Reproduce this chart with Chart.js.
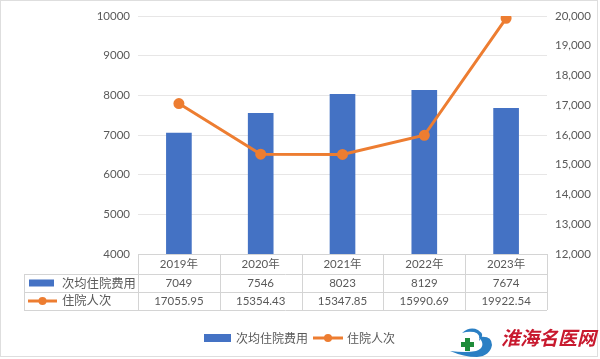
<!DOCTYPE html>
<html>
<head>
<meta charset="utf-8">
<style>
  html, body { margin: 0; padding: 0; background: #fff; }
  #wrap { width: 600px; height: 359px; position: relative; }
</style>
</head>
<body>
<div id="wrap"><canvas id="chart" width="600" height="359"></canvas></div>
<script src="https://cdn.jsdelivr.net/npm/chart.js@4/dist/chart.umd.min.js"></script>
<script>
const years = ['2019年', '2020年', '2021年', '2022年', '2023年'];
const costLabel = '次均住院费用';
const visitsLabel = '住院人次';
const avgCost = [7049, 7546, 8023, 8129, 7674];
const visits = [17055.95, 15354.43, 15347.85, 15990.69, 19922.54];

const BLUE = '#4472C4';
const ORANGE = '#ED7D31';
const TEXT = '#595959';
const LINE = '#D4D4D4';
const LATIN = 'Lato, "Noto Sans CJK SC", sans-serif';
const CJK = '"Noto Sans CJK SC", sans-serif';

function barKey(ctx, x, y, w, h) {
  ctx.fillStyle = BLUE;
  ctx.fillRect(x, y - h / 2, w, h);
}

function lineKey(ctx, x, y, w) {
  ctx.strokeStyle = ORANGE;
  ctx.lineWidth = 3;
  ctx.beginPath();
  ctx.moveTo(x, y);
  ctx.lineTo(x + w, y);
  ctx.stroke();
  ctx.fillStyle = ORANGE;
  ctx.beginPath();
  ctx.arc(x + w / 2, y, 4, 0, Math.PI * 2);
  ctx.fill();
}

// data table under the plot, same columns as the x axis
const dataTable = {
  id: 'dataTable',
  afterDraw(chart) {
    const { ctx, chartArea: a } = chart;
    const left = a.left, right = a.right, keyLeft = 24;
    const rows = [a.bottom, a.bottom + 20, a.bottom + 38, a.bottom + 56];
    const colW = (right - left) / years.length;

    ctx.save();
    ctx.strokeStyle = LINE;
    ctx.lineWidth = 1;
    ctx.beginPath();
    rows.forEach((y, i) => {
      ctx.moveTo(i === 0 ? left : keyLeft, y + 0.5);
      ctx.lineTo(right, y + 0.5);
    });
    for (let i = 0; i <= years.length; i++) {
      const x = Math.round(left + colW * i) + 0.5;
      ctx.moveTo(x, rows[0]);
      ctx.lineTo(x, rows[3]);
    }
    ctx.moveTo(keyLeft + 0.5, rows[1]);
    ctx.lineTo(keyLeft + 0.5, rows[3]);
    ctx.stroke();

    ctx.fillStyle = TEXT;
    ctx.textAlign = 'center';
    ctx.textBaseline = 'middle';
    ctx.font = '11.5px ' + LATIN;
    years.forEach((year, i) => {
      const x = left + colW * (i + 0.5);
      ctx.fillText(year, x, rows[0] + 10);
      ctx.fillText(String(avgCost[i]), x, rows[1] + 9);
      ctx.fillText(visits[i].toFixed(2), x, rows[2] + 9);
    });

    barKey(ctx, 29, rows[1] + 9, 25, 7);
    lineKey(ctx, 28, rows[2] + 9, 29);
    ctx.fillStyle = TEXT;
    ctx.textAlign = 'left';
    ctx.font = '12.3px ' + CJK;
    ctx.fillText(costLabel, 62, rows[1] + 9);
    ctx.fillText(visitsLabel, 62, rows[2] + 8);

    // legend
    barKey(ctx, 204, 338, 27, 8);
    ctx.fillStyle = TEXT;
    ctx.font = '12px ' + CJK;
    ctx.fillText(costLabel, 236, 338);
    lineKey(ctx, 313, 338, 30);
    ctx.fillStyle = TEXT;
    ctx.font = '12px ' + CJK;
    ctx.fillText(visitsLabel, 347, 338);
    ctx.restore();
  }
};

// site watermark, bottom right, plus the thin frame of the screenshot
const watermark = {
  id: 'watermark',
  afterDraw(chart) {
    const { ctx } = chart;
    ctx.save();
    ctx.strokeStyle = '#DEDEDE';
    ctx.lineWidth = 1;
    ctx.strokeRect(0.5, 0.5, 597, 356);

    // logo: two blue swooshes and a green cross
    ctx.fillStyle = '#2A7FC4';
    ctx.beginPath();
    ctx.moveTo(462, 333);
    ctx.quadraticCurveTo(470, 326, 478, 330);
    ctx.quadraticCurveTo(486, 335, 479, 341);
    ctx.quadraticCurveTo(481, 334, 474, 332);
    ctx.quadraticCurveTo(468, 331, 462, 333);
    ctx.fill();
    ctx.beginPath();
    ctx.moveTo(479, 337);
    ctx.quadraticCurveTo(492, 335, 492, 345);
    ctx.quadraticCurveTo(490, 356, 477, 357);
    ctx.quadraticCurveTo(464, 357, 450, 351);
    ctx.quadraticCurveTo(466, 353, 476, 351);
    ctx.quadraticCurveTo(487, 347, 479, 337);
    ctx.fill();
    ctx.fillStyle = '#1E8C3A';
    ctx.fillRect(465, 338, 5, 13);
    ctx.fillRect(461, 342, 13, 5);

    ctx.fillStyle = '#C8192E';
    ctx.font = 'italic bold 19px ' + CJK;
    ctx.textAlign = 'left';
    ctx.textBaseline = 'middle';
    ctx.fillText('淮海名医网', 501, 338);
    ctx.restore();
  }
};

new Chart(document.getElementById('chart'), {
  data: {
    labels: years,
    datasets: [
      {
        type: 'line',
        label: visitsLabel,
        data: visits,
        yAxisID: 'y1',
        borderColor: ORANGE,
        backgroundColor: ORANGE,
        borderWidth: 3,
        pointRadius: 4,
        pointBackgroundColor: ORANGE,
        tension: 0,
        order: 1
      },
      {
        type: 'bar',
        label: costLabel,
        data: avgCost,
        yAxisID: 'y',
        backgroundColor: BLUE,
        barThickness: 25,
        order: 2
      }
    ]
  },
  options: {
    responsive: false,
    animation: false,
    layout: { padding: { top: 16, bottom: 105, left: 0, right: 0 } },
    plugins: { legend: { display: false }, tooltip: { enabled: false } },
    scales: {
      x: { display: false },
      y: {
        position: 'left',
        min: 4000,
        max: 10000,
        afterFit(scale) { scale.width = 138; },
        border: { display: false },
        grid: { color: '#E7E6E6', drawTicks: false },
        ticks: {
          stepSize: 1000,
          color: TEXT,
          padding: 8,
          font: { family: LATIN, size: 11.5 },
          callback: v => String(v)
        }
      },
      y1: {
        position: 'right',
        min: 12000,
        max: 20000,
        afterFit(scale) { scale.width = 53; },
        border: { display: false },
        grid: { display: false, drawTicks: false },
        ticks: {
          stepSize: 1000,
          color: TEXT,
          padding: 8,
          font: { family: LATIN, size: 11.5 },
          callback: v => v.toLocaleString('en-US')
        }
      }
    }
  },
  plugins: [dataTable, watermark]
});
</script>
</body>
</html>
